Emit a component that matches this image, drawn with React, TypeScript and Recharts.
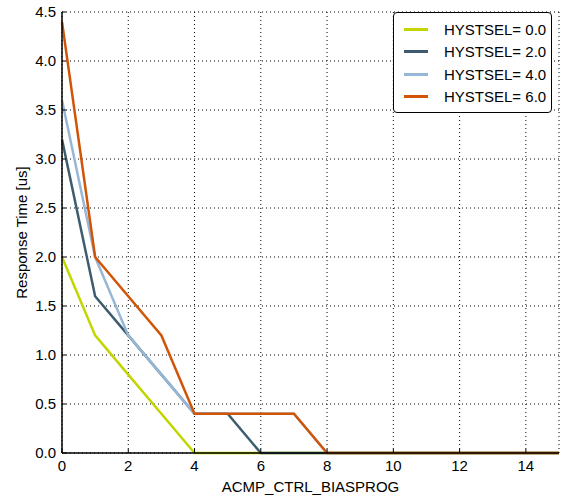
import { CartesianGrid, Legend, Line, LineChart, XAxis, YAxis } from 'recharts'

const biasProg = [0, 1, 2, 3, 4, 5, 6, 7, 8, 9, 10, 11, 12, 13, 14, 15]
const hyst00 = [2.0, 1.2, 0.8, 0.4, 0, 0, 0, 0, 0, 0, 0, 0, 0, 0, 0, 0]
const hyst20 = [3.2, 1.6, 1.2, 0.8, 0.4, 0.4, 0, 0, 0, 0, 0, 0, 0, 0, 0, 0]
const hyst40 = [3.6, 2.0, 1.2, 0.8, 0.4, 0.4, 0.4, 0.4, 0, 0, 0, 0, 0, 0, 0, 0]
const hyst60 = [4.4, 2.0, 1.6, 1.2, 0.4, 0.4, 0.4, 0.4, 0, 0, 0, 0, 0, 0, 0, 0]

const xTicks = [0, 2, 4, 6, 8, 10, 12, 14]
const yTicks = [0, 0.5, 1, 1.5, 2, 2.5, 3, 3.5, 4, 4.5]

const series = [
  { key: 'h0', name: 'HYSTSEL= 0.0', color: '#c3d500' },
  { key: 'h2', name: 'HYSTSEL= 2.0', color: '#3d5d6e' },
  { key: 'h4', name: 'HYSTSEL= 4.0', color: '#97b7d7' },
  { key: 'h6', name: 'HYSTSEL= 6.0', color: '#d05508' },
]

const rows = biasProg.map((x, i) => ({
  x,
  h0: hyst00[i],
  h2: hyst20[i],
  h4: hyst40[i],
  h6: hyst60[i],
}))

const font = '"Liberation Sans", Arial, sans-serif'
const tickStyle = { fill: '#000', fontSize: 15, fontFamily: font }
const blank = () => <g />

function LegendBox() {
  return (
    <div
      style={{
        boxSizing: 'border-box',
        width: 159,
        border: '1px solid #000',
        borderRadius: 4,
        background: '#fff',
        padding: '5px 4px 4px 10px',
        fontFamily: font,
        fontSize: 15,
        color: '#000',
        whiteSpace: 'nowrap',
      }}
    >
      {series.map((s) => (
        <div key={s.key} style={{ display: 'flex', alignItems: 'center', height: 22.5 }}>
          <span style={{ display: 'inline-block', flex: 'none', width: 24, height: 3, background: s.color, marginRight: 16 }} />
          <span>{s.name}</span>
        </div>
      ))}
    </div>
  )
}

export default function App() {
  return (
    <div style={{ position: 'absolute', left: 0, top: 0, background: '#fff' }}>
      <LineChart width={562} height={496} data={rows} margin={{ top: 12, right: 3, left: 0, bottom: 0 }}>
        <CartesianGrid stroke="#000" strokeDasharray="1 3" strokeWidth={1} />
        <XAxis
          dataKey="x"
          type="number"
          domain={[0, 15]}
          ticks={xTicks}
          height={43}
          tickSize={-4}
          tickMargin={11}
          tick={tickStyle}
          axisLine={{ stroke: '#000', strokeWidth: 1.5 }}
          tickLine={{ stroke: '#000' }}
          label={{ value: 'ACMP_CTRL_BIASPROG', position: 'insideBottom', offset: 4, style: { fill: '#000', fontSize: 15, fontFamily: font } }}
        />
        <XAxis
          xAxisId="top"
          orientation="top"
          dataKey="x"
          type="number"
          domain={[0, 15]}
          ticks={xTicks}
          height={0}
          tickSize={-4}
          tick={blank}
          axisLine={{ stroke: '#000', strokeWidth: 1.5 }}
          tickLine={{ stroke: '#000' }}
        />
        <YAxis
          type="number"
          domain={[0, 4.5]}
          ticks={yTicks}
          width={62}
          tickSize={-4}
          tickMargin={10}
          tick={tickStyle}
          tickFormatter={(v: number) => v.toFixed(1)}
          axisLine={{ stroke: '#000', strokeWidth: 1.5 }}
          tickLine={{ stroke: '#000' }}
          label={{ value: 'Response Time [us]', angle: -90, position: 'center', dx: -9, style: { fill: '#000', fontSize: 15, fontFamily: font, textAnchor: 'middle' } }}
        />
        <YAxis
          yAxisId="right"
          orientation="right"
          type="number"
          domain={[0, 4.5]}
          ticks={yTicks}
          width={0}
          tickSize={-4}
          tick={blank}
          axisLine={{ stroke: '#000', strokeWidth: 1.5 }}
          tickLine={{ stroke: '#000' }}
        />
        <Legend
          layout="vertical"
          align="center"
          verticalAlign="middle"
          wrapperStyle={{ top: 12, left: 393, width: 159 }}
          content={() => <LegendBox />}
        />
        {series.map((s) => (
          <Line
            key={s.key}
            type="linear"
            dataKey={s.key}
            name={s.name}
            stroke={s.color}
            strokeWidth={2.5}
            dot={false}
            activeDot={false}
            isAnimationActive={false}
          />
        ))}
      </LineChart>
    </div>
  )
}
